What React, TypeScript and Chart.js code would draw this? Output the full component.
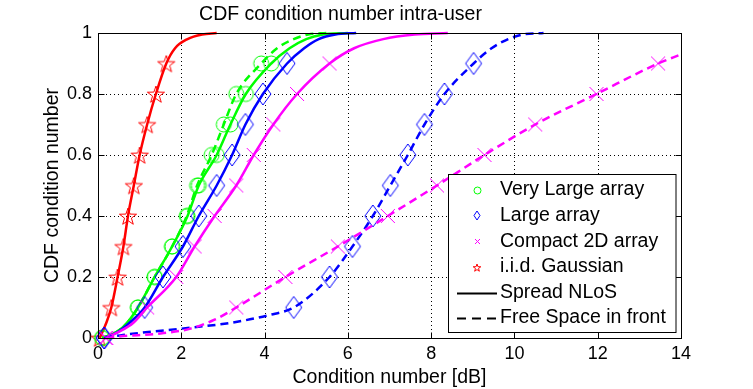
import React, { useEffect, useRef } from 'react';
import { Chart, registerables } from 'chart.js';

Chart.register(...registerables);

const FONT = '"Liberation Sans", Arial, Helvetica, sans-serif';

// ---- data ----
const titleText = 'CDF condition number intra-user';
const xTitle = 'Condition number [dB]';
const yTitle = 'CDF condition number';
const xTickValues = [0, 2, 4, 6, 8, 10, 12, 14];
const xTickLabels = ['0', '2', '4', '6', '8', '10', '12', '14'];
const yTickValues = [0, 0.2, 0.4, 0.6, 0.8, 1];
const yTickLabels = ['0', '0.2', '0.4', '0.6', '0.8', '1'];

// CDF levels carrying a marker
const markerLevels = [0, 0.1, 0.2, 0.3, 0.4, 0.5, 0.6, 0.7, 0.8, 0.9];

// Very Large array – Spread NLoS (solid)
const vlSpreadMarkX = [0.1, 0.96, 1.36, 1.78, 2.15, 2.42, 2.85, 3.18, 3.55, 4.16];
const vlSpreadCurveP = [0.02, 0.05, 0.95, 0.98, 0.995, 1.0];
const vlSpreadCurveX = [0.45, 0.7, 4.6, 5.0, 5.4, 6.0];

// Very Large array – Free Space in front (dashed)
const vlFreeMarkX = [0.1, 0.96, 1.36, 1.78, 2.13, 2.38, 2.73, 3.02, 3.32, 3.92];
const vlFreeCurveP = [0.02, 0.05, 0.95, 0.98, 0.995, 1.0];
const vlFreeCurveX = [0.45, 0.7, 4.3, 4.7, 5.05, 5.5];

// Large array – Spread NLoS (solid)
const lSpreadMarkX = [0.15, 1.12, 1.56, 2.04, 2.42, 2.85, 3.22, 3.54, 3.96, 4.54];
const lSpreadCurveP = [0.02, 0.05, 0.95, 0.98, 0.995, 1.0];
const lSpreadCurveX = [0.48, 0.76, 4.95, 5.3, 5.7, 6.2];

// Large array – Free Space in front (dashed)
const lFreeMarkX = [0.15, 4.7, 5.56, 6.11, 6.6, 7.02, 7.44, 7.84, 8.32, 9.02];
const lFreeCurveP = [0.01, 0.025, 0.035, 0.05, 0.075, 0.95, 0.98, 0.995, 1.0];
const lFreeCurveX = [0.6, 1.6, 2.3, 3.2, 4.1, 9.45, 9.85, 10.2, 10.7];

// Compact 2D array – Spread NLoS (solid)
const cSpreadMarkX = [0.18, 1.18, 1.88, 2.32, 2.8, 3.32, 3.74, 4.21, 4.78, 5.56];
const cSpreadCurveP = [0.02, 0.05, 0.95, 0.98, 0.995, 1.0];
const cSpreadCurveX = [0.5, 0.85, 6.15, 6.85, 7.6, 8.4];

// Compact 2D array – Free Space in front (dashed)
const cFreeMarkX = [0.2, 3.32, 4.5, 5.76, 6.96, 8.14, 9.28, 10.5, 11.97, 13.45];
const cFreeCurveP = [0.005, 0.015, 0.03, 0.06, 0.93];
const cFreeCurveX = [0.5, 1.5, 2.2, 2.8, 14.0];

// i.i.d. Gaussian – Spread NLoS (solid)
const iidMarkX = [0.04, 0.32, 0.47, 0.61, 0.72, 0.86, 1.0, 1.18, 1.39, 1.64];
const iidCurveP = [0.05, 0.95, 0.98, 0.995, 1.0];
const iidCurveX = [0.2, 1.85, 2.15, 2.5, 2.85];

const legendLabels = [
  'Very Large array',
  'Large array',
  'Compact 2D array',
  'i.i.d. Gaussian',
  'Spread NLoS',
  'Free Space in front',
];

// ---- styling ----
const GREEN = '#00ff00';
const BLUE = '#0000ff';
const MAGENTA = '#ff00ff';
const RED = '#ff0000';
const DASH = [8, 5];

type Pt = { x: number; y: number; m: boolean };

function buildSeries(markX: number[], curveP: number[], curveX: number[]): Pt[] {
  const pts: Pt[] = markX.map((x, i) => ({ x, y: markerLevels[i], m: true }));
  curveP.forEach((p, i) => pts.push({ x: curveX[i], y: p, m: false }));
  pts.sort((a, b) => a.y - b.y || a.x - b.x);
  return pts;
}

function makeMarker(kind: string, color: string, w: number, h: number, lw = 1): HTMLCanvasElement {
  const c = document.createElement('canvas');
  const W = Math.ceil(w) + 4;
  const H = Math.ceil(h) + 4;
  c.width = W;
  c.height = H;
  const g = c.getContext('2d')!;
  g.strokeStyle = color;
  g.lineWidth = lw;
  const cx = W / 2;
  const cy = H / 2;
  g.beginPath();
  if (kind === 'circle') {
    g.arc(cx, cy, w / 2, 0, Math.PI * 2);
  } else if (kind === 'diamond') {
    g.moveTo(cx, cy - h / 2);
    g.lineTo(cx + w / 2, cy);
    g.lineTo(cx, cy + h / 2);
    g.lineTo(cx - w / 2, cy);
    g.closePath();
  } else if (kind === 'x') {
    g.moveTo(cx - w / 2, cy - h / 2);
    g.lineTo(cx + w / 2, cy + h / 2);
    g.moveTo(cx + w / 2, cy - h / 2);
    g.lineTo(cx - w / 2, cy + h / 2);
  } else if (kind === 'star') {
    for (let k = 0; k < 10; k++) {
      const r = k % 2 === 0 ? w / 2 : (w / 2) * 0.4;
      const a = -Math.PI / 2 + (k * Math.PI) / 5;
      const px = cx + r * Math.cos(a);
      const py = cy + 1 + r * Math.sin(a);
      if (k === 0) g.moveTo(px, py);
      else g.lineTo(px, py);
    }
    g.closePath();
  }
  g.stroke();
  return c;
}

export default function App() {
  const ref = useRef<HTMLCanvasElement | null>(null);

  useEffect(() => {
    document.body.style.margin = '0';
    const canvas = ref.current;
    if (!canvas) return;

    const mCircle = makeMarker('circle', GREEN, 15, 15);
    const mDiamond = makeMarker('diamond', BLUE, 16, 22);
    const mX = makeMarker('x', MAGENTA, 14, 14);
    const mStar = makeMarker('star', RED, 18, 18);

    const lCircle = makeMarker('circle', GREEN, 7, 7);
    const lDiamond = makeMarker('diamond', BLUE, 6, 9);
    const lX = makeMarker('x', MAGENTA, 5, 5);
    const lStar = makeMarker('star', RED, 8, 8);

    const radiusFn = (ctx: any) => (ctx.raw && ctx.raw.m ? 8 : 0);

    const mk = (data: Pt[], color: string, style: HTMLCanvasElement, dashed: boolean) => ({
      data,
      borderColor: color,
      backgroundColor: color,
      borderWidth: 2.5,
      borderDash: dashed ? DASH : [],
      pointStyle: style,
      pointRadius: radiusFn,
      pointHoverRadius: radiusFn,
      pointHitRadius: 0,
      cubicInterpolationMode: 'monotone',
      fill: false,
      clip: false,
    });

    const datasets = [
      mk(buildSeries(cFreeMarkX, cFreeCurveP, cFreeCurveX), MAGENTA, mX, true),
      mk(buildSeries(lFreeMarkX, lFreeCurveP, lFreeCurveX), BLUE, mDiamond, true),
      mk(buildSeries(cSpreadMarkX, cSpreadCurveP, cSpreadCurveX), MAGENTA, mX, false),
      mk(buildSeries(lSpreadMarkX, lSpreadCurveP, lSpreadCurveX), BLUE, mDiamond, false),
      mk(buildSeries(vlSpreadMarkX, vlSpreadCurveP, vlSpreadCurveX), GREEN, mCircle, false),
      mk(buildSeries(vlFreeMarkX, vlFreeCurveP, vlFreeCurveX), GREEN, mCircle, true),
      mk(buildSeries(iidMarkX, iidCurveP, iidCurveX), RED, mStar, false),
    ];

    const framePlugin = {
      id: 'frame',
      beforeDatasetsDraw(chart: any) {
        const { ctx, chartArea: a, scales } = chart;
        ctx.save();
        ctx.strokeStyle = '#000';
        ctx.lineWidth = 1;
        ctx.setLineDash([1, 3]);
        xTickValues.slice(1, -1).forEach((v) => {
          const x = Math.round(scales.x.getPixelForValue(v)) + 0.5;
          ctx.beginPath();
          ctx.moveTo(x, a.top);
          ctx.lineTo(x, a.bottom);
          ctx.stroke();
        });
        yTickValues.slice(1, -1).forEach((v) => {
          const y = Math.round(scales.y.getPixelForValue(v)) + 0.5;
          ctx.beginPath();
          ctx.moveTo(a.left, y);
          ctx.lineTo(a.right, y);
          ctx.stroke();
        });
        ctx.restore();
      },
      afterDatasetsDraw(chart: any) {
        const { ctx, chartArea: a, scales } = chart;
        ctx.save();
        ctx.strokeStyle = '#000';
        ctx.lineWidth = 1;
        ctx.setLineDash([]);
        const L = Math.round(a.left) + 0.5;
        const R = Math.round(a.right) + 0.5;
        const T = Math.round(a.top) + 0.5;
        const B = Math.round(a.bottom) + 0.5;
        ctx.strokeRect(L, T, R - L, B - T);
        const tl = 6;
        ctx.beginPath();
        xTickValues.slice(1, -1).forEach((v) => {
          const x = Math.round(scales.x.getPixelForValue(v)) + 0.5;
          ctx.moveTo(x, B);
          ctx.lineTo(x, B - tl);
          ctx.moveTo(x, T);
          ctx.lineTo(x, T + tl);
        });
        yTickValues.slice(1, -1).forEach((v) => {
          const y = Math.round(scales.y.getPixelForValue(v)) + 0.5;
          ctx.moveTo(L, y);
          ctx.lineTo(L + tl, y);
          ctx.moveTo(R, y);
          ctx.lineTo(R - tl, y);
        });
        ctx.stroke();

        // legend
        const bx = 448.5;
        const by = 174.5;
        const bw = 227.5;
        const bh = 158;
        ctx.fillStyle = '#fff';
        ctx.fillRect(bx, by, bw, bh);
        ctx.strokeRect(bx, by, bw, bh);
        const rowY = [190, 215.7, 241.3, 266.8, 292.5, 318];
        const markX = 477;
        const textX = 500;
        const icons = [lCircle, lDiamond, lX, lStar];
        ctx.font = `19.5px ${FONT}`;
        ctx.fillStyle = '#000';
        ctx.textBaseline = 'middle';
        ctx.textAlign = 'left';
        legendLabels.forEach((label, i) => {
          const y = rowY[i];
          if (i < 4) {
            const ic = icons[i];
            ctx.drawImage(ic, Math.round(markX - ic.width / 2), Math.round(y - ic.height / 2));
          } else {
            ctx.save();
            ctx.lineWidth = 2;
            ctx.setLineDash(i === 5 ? [9, 6] : []);
            ctx.beginPath();
            ctx.moveTo(457, Math.round(y) + 0.5);
            ctx.lineTo(497, Math.round(y) + 0.5);
            ctx.stroke();
            ctx.restore();
          }
          ctx.fillText(label, textX, y);
        });
        ctx.restore();
      },
    };

    const chart = new Chart(canvas, {
      type: 'line',
      data: { datasets: datasets as any },
      options: {
        responsive: false,
        animation: false,
        events: [],
        layout: { padding: { left: 0, right: 72, top: 0, bottom: 0 } },
        plugins: {
          legend: { display: false },
          tooltip: { enabled: false },
          title: {
            display: true,
            text: titleText,
            color: '#000',
            font: { family: FONT, size: 19.5, weight: 'normal' },
            padding: { top: 2.5, bottom: 7.1 },
          },
        },
        scales: {
          x: {
            type: 'linear',
            min: 0,
            max: 14,
            afterBuildTicks: (s: any) => {
              s.ticks = xTickValues.map((v) => ({ value: v }));
            },
            ticks: {
              color: '#000',
              font: { family: FONT, size: 18 },
              padding: 5,
              maxRotation: 0,
              callback: (v: any) => {
                const i = xTickValues.indexOf(Number(v));
                return i >= 0 ? xTickLabels[i] : '';
              },
            },
            grid: { display: false, drawTicks: false },
            border: { display: false },
            title: {
              display: true,
              text: xTitle,
              color: '#000',
              font: { family: FONT, size: 19.5 },
              padding: { top: 0, bottom: 0 },
            },
            afterFit: (s: any) => {
              s.height = 51;
            },
          },
          y: {
            type: 'linear',
            min: 0,
            max: 1,
            afterBuildTicks: (s: any) => {
              s.ticks = yTickValues.map((v) => ({ value: v }));
            },
            ticks: {
              color: '#000',
              font: { family: FONT, size: 18 },
              padding: 6,
              callback: (v: any) => {
                const i = yTickValues.findIndex((t) => Math.abs(t - Number(v)) < 1e-9);
                return i >= 0 ? yTickLabels[i] : '';
              },
            },
            grid: { display: false, drawTicks: false },
            border: { display: false },
            title: {
              display: true,
              text: yTitle,
              color: '#000',
              font: { family: FONT, size: 19.5 },
              padding: { top: 40.8, bottom: 0 },
            },
            afterFit: (s: any) => {
              s.width = 98;
            },
          },
        },
      } as any,
      plugins: [framePlugin],
    });

    return () => {
      chart.destroy();
    };
  }, []);

  return (
    <div style={{ width: 753, height: 389 }}>
      <canvas ref={ref} width={753} height={389} style={{ display: 'block' }} />
    </div>
  );
}
